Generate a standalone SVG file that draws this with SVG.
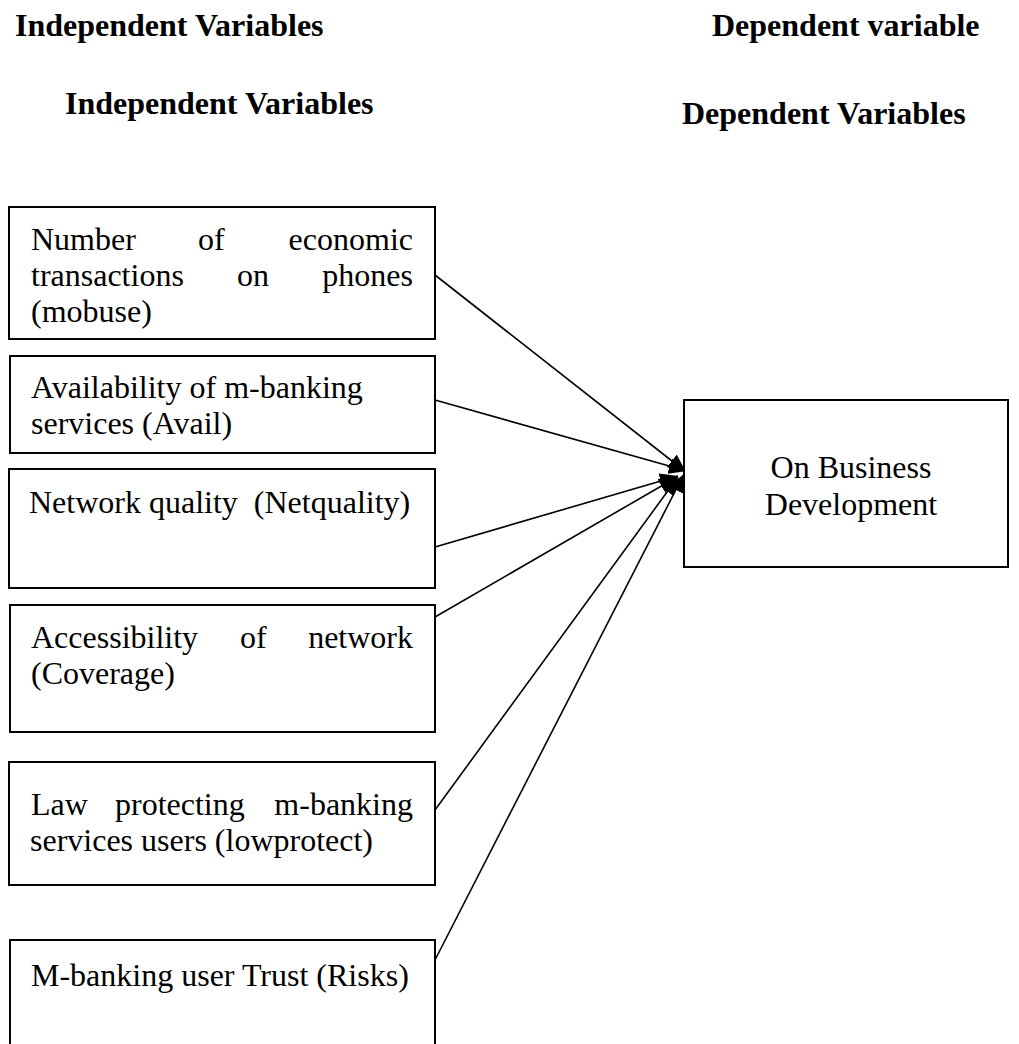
<svg xmlns="http://www.w3.org/2000/svg" width="1019" height="1044" viewBox="0 0 1019 1044">
<defs>
<style>
.h{font-family:"Liberation Serif","Times New Roman",serif;font-weight:bold;font-size:32px;fill:#000}
.t{font-family:"Liberation Serif","Times New Roman",serif;font-size:32px;fill:#000}
.box{fill:#fff;stroke:#000;stroke-width:2}
.c{stroke:#000;stroke-width:1.6;fill:none;marker-end:url(#ah)}
</style>
<marker id="ah" markerUnits="userSpaceOnUse" markerWidth="20" markerHeight="16" refX="18" refY="8" orient="auto">
<path d="M0,0 L18,8 L0,16 Z" fill="#000"/>
</marker>
</defs>
<rect width="1019" height="1044" fill="#fff"/>
<g id="headers">
<text class="h" x="15" y="36">Independent Variables</text>
<text class="h" x="712" y="36">Dependent variable</text>
<text class="h" x="65" y="114">Independent Variables</text>
<text class="h" x="682" y="124">Dependent Variables</text>
</g>
<g id="connectors">
<line class="c" x1="435" y1="275" x2="686" y2="472"/>
<line class="c" x1="435" y1="400" x2="687" y2="471"/>
<line class="c" x1="435" y1="547" x2="678" y2="476"/>
<line class="c" x1="435" y1="617" x2="677" y2="477"/>
<line class="c" x1="435" y1="810" x2="678" y2="477"/>
<line class="c" x1="435" y1="960" x2="684" y2="474"/>
</g>
<g id="node-mobuse">
<rect class="box" x="9" y="207" width="426" height="132"/>
<text class="t" x="31" y="250">Number</text>
<text class="t" x="198" y="250">of</text>
<text class="t" x="413" y="250" text-anchor="end">economic</text>
<text class="t" x="31" y="286">transactions</text>
<text class="t" x="237" y="286">on</text>
<text class="t" x="413" y="286" text-anchor="end">phones</text>
<text class="t" x="31" y="322">(mobuse)</text>
</g>
<g id="node-avail">
<rect class="box" x="10" y="356" width="425" height="97"/>
<text class="t" x="31" y="398">Availability of m-banking</text>
<text class="t" x="31" y="434">services (Avail)</text>
</g>
<g id="node-netquality">
<rect class="box" x="9" y="469" width="426" height="119"/>
<text class="t" x="29" y="513" xml:space="preserve">Network quality  (Netquality)</text>
</g>
<g id="node-coverage">
<rect class="box" x="10" y="605" width="425" height="127"/>
<text class="t" x="31" y="648">Accessibility</text>
<text class="t" x="240" y="648">of</text>
<text class="t" x="413" y="648" text-anchor="end">network</text>
<text class="t" x="31" y="684">(Coverage)</text>
</g>
<g id="node-lowprotect">
<rect class="box" x="9" y="762" width="426" height="123"/>
<text class="t" x="31" y="815">Law</text>
<text class="t" x="115" y="815">protecting</text>
<text class="t" x="413" y="815" text-anchor="end">m-banking</text>
<text class="t" x="30" y="851">services users (lowprotect)</text>
</g>
<g id="node-risks">
<rect class="box" x="10" y="940" width="425" height="120"/>
<text class="t" x="31" y="986">M-banking user Trust (Risks)</text>
</g>
<g id="node-business">
<rect class="box" x="684" y="400" width="324" height="167"/>
<text class="t" x="851" y="478" text-anchor="middle">On Business</text>
<text class="t" x="851" y="515" text-anchor="middle">Development</text>
</g>
</svg>
